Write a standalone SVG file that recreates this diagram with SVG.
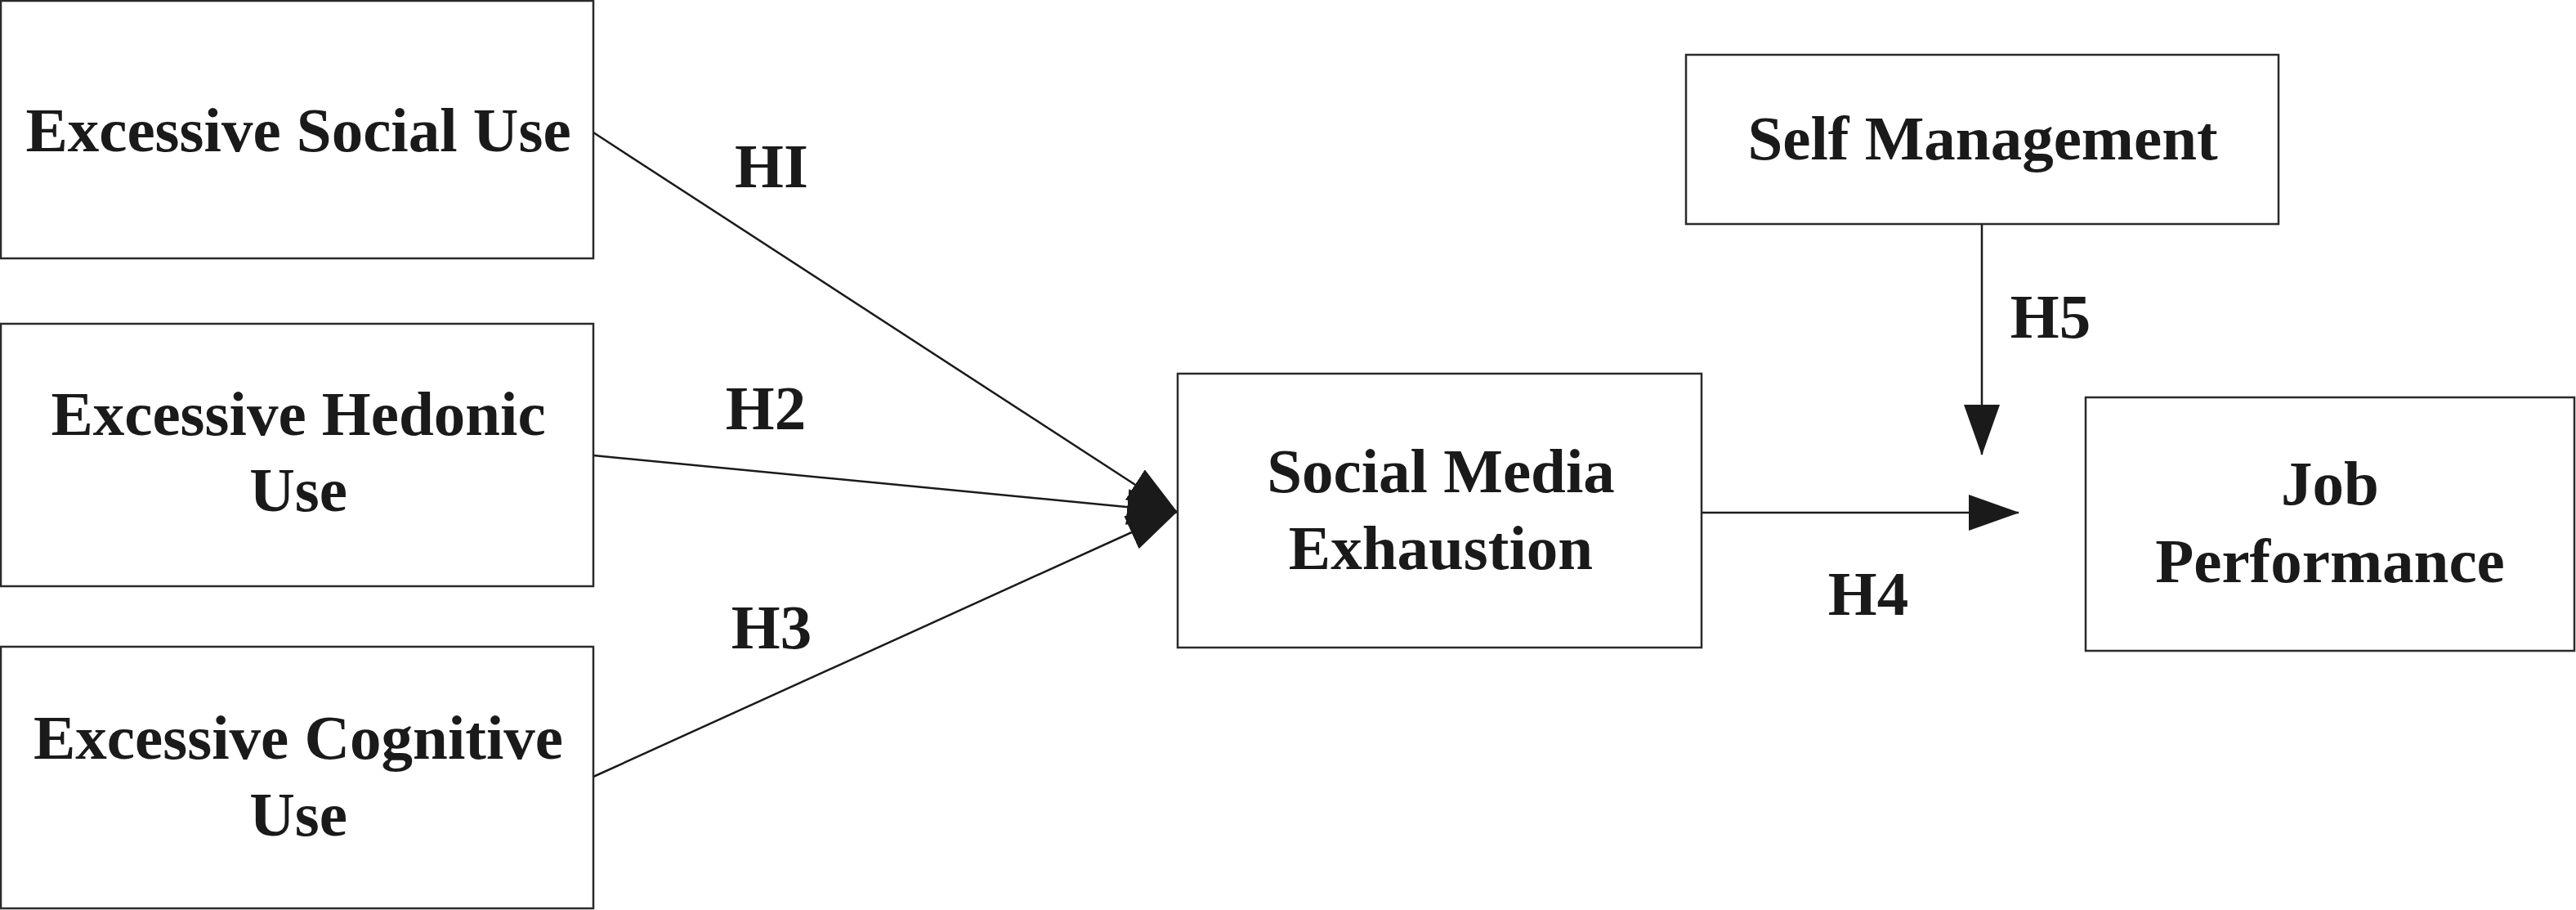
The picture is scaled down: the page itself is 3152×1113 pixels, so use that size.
<svg xmlns="http://www.w3.org/2000/svg" width="3152" height="1113" viewBox="0 0 3152 1113">
  <style>
    .box { fill: #ffffff; stroke: #2a2a2a; stroke-width: 2.5; }
    .lbl { font-family: "Liberation Serif", "Times New Roman", serif; font-weight: bold; font-size: 77px; fill: #1a1a1a; text-anchor: middle; }
    .edge { stroke: #1a1a1a; stroke-width: 2.5; fill: none; marker-end: url(#arrow); }
  </style>
  <defs>
    <marker id="arrow" markerUnits="userSpaceOnUse" markerWidth="62" markerHeight="44" viewBox="0 0 62 44" refX="61" refY="22" orient="auto">
      <path d="M0,0 L62,22 L0,44 z" fill="#1a1a1a"/>
    </marker>
  </defs>
  <rect width="3152" height="1113" fill="#ffffff"/>

  <g id="connectors">
    <line class="edge" x1="726" y1="162" x2="1440" y2="626"/>
    <line class="edge" x1="726" y1="557" x2="1440" y2="626"/>
    <line class="edge" x1="726" y1="950" x2="1440" y2="626"/>
    <line class="edge" x1="2082" y1="627" x2="2470" y2="627"/>
    <line class="edge" x1="2425" y1="274" x2="2425" y2="556"/>
    <text class="lbl" x="944" y="229">HI</text>
    <text class="lbl" x="937" y="525">H2</text>
    <text class="lbl" x="944" y="793">H3</text>
    <text class="lbl" x="2286" y="752">H4</text>
    <text class="lbl" x="2509" y="413">H5</text>
  </g>

  <g id="node-social-use">
    <rect class="box" x="1" y="1" width="725" height="315"/>
    <text class="lbl" x="365" y="185">Excessive Social Use</text>
  </g>

  <g id="node-hedonic-use">
    <rect class="box" x="1" y="396" width="725" height="321"/>
    <text class="lbl" x="365" y="532">Excessive Hedonic</text>
    <text class="lbl" x="365" y="625">Use</text>
  </g>

  <g id="node-cognitive-use">
    <rect class="box" x="1" y="791" width="725" height="320"/>
    <text class="lbl" x="365" y="928">Excessive Cognitive</text>
    <text class="lbl" x="365" y="1022">Use</text>
  </g>

  <g id="node-exhaustion">
    <rect class="box" x="1441" y="457" width="641" height="335"/>
    <text class="lbl" x="1763" y="602">Social Media</text>
    <text class="lbl" x="1763" y="696">Exhaustion</text>
  </g>

  <g id="node-self-management">
    <rect class="box" x="2063" y="67" width="725" height="207"/>
    <text class="lbl" x="2426" y="195">Self Management</text>
  </g>

  <g id="node-job-performance">
    <rect class="box" x="2552" y="486" width="598" height="310"/>
    <text class="lbl" x="2851" y="617">Job</text>
    <text class="lbl" x="2851" y="712">Performance</text>
  </g>
</svg>
